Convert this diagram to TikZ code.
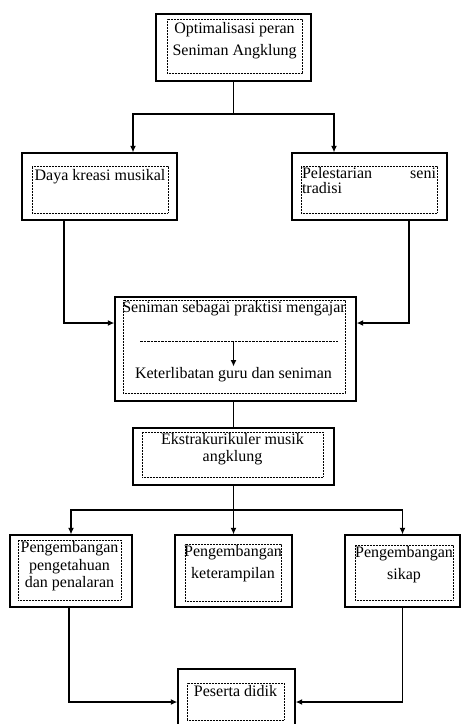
\documentclass[tikz,border=0pt]{standalone}
\usepackage{fontspec}
\setmainfont{Liberation Serif}
\usetikzlibrary{positioning, arrows.meta}

\begin{document}
\begin{tikzpicture}[x=1pt, y=-1pt]
	\tikzstyle{outerbox}=[rectangle, draw=black, line width=1.4pt, inner sep=0pt]
	\tikzstyle{innerbox}=[rectangle, draw=black, line width=0.9pt, dash pattern=on 0.8pt off 0.7pt, inner sep=0pt]
	\tikzstyle{boxtext}=[inner sep=1pt, align=center, font=\fontsize{16}{18}\selectfont]
	\tikzstyle{arr}=[-{Latex[length=6.5pt, width=6pt]}, line width=1.2pt]
	\tikzstyle{conn}=[line width=1.2pt]

	\useasboundingbox (0,0) rectangle (462,724);

	\node[outerbox, minimum width=155pt, minimum height=67pt] (optim) at (233.5,47.5) {};
	\node[innerbox, minimum width=135pt, minimum height=54pt] (optimin) at (234.5,46) {};
	\node[boxtext, below=3pt of optimin.north, font=\fontsize{16}{22}\selectfont] (optimtxt) {Optimalisasi peran\\Seniman Angklung};

	\node[outerbox, minimum width=155pt, minimum height=67pt] (daya) at (99.5,186.5) {};
	\node[innerbox, minimum width=136pt, minimum height=47pt] (dayain) at (100,189.5) {};
	\node[boxtext, below=3pt of dayain.north] (dayatxt) {Daya kreasi musikal};

	\node[outerbox, minimum width=155pt, minimum height=67pt] (lestari) at (369.5,186.5) {};
	\node[innerbox, minimum width=136pt, minimum height=47pt] (lestariin) at (369,189.5) {};
	\node[boxtext, below=1pt of lestariin.north, text width=134pt, align=left, font=\fontsize{16}{15}\selectfont] (lestaritxt) {Pelestarian\hfill seni\\tradisi};

	\node[outerbox, minimum width=241pt, minimum height=104pt] (praktisi) at (235.5,349) {};
	\node[innerbox, minimum width=222pt, minimum height=93pt] (praktisiin) at (234,346.5) {};
	\node[boxtext, below=1pt of praktisiin.north] (praktisitxt) {Seniman sebagai praktisi mengajar};
	\coordinate (dashL) at (140,341);
	\coordinate (dashR) at (338,341);
	\coordinate (dashM) at (233.5,341);
	\draw[dash pattern=on 2.5pt off 1pt, line width=1pt] (dashL) -- (dashR);
	\node[boxtext] (libat) at (233.5,375) {Keterlibatan guru dan seniman};
	\draw[arr] (dashM) -- (libat.north);

	\node[outerbox, minimum width=201pt, minimum height=57pt] (ekstra) at (233.5,456.5) {};
	\node[innerbox, minimum width=181pt, minimum height=45pt] (ekstrain) at (232.5,454.5) {};
	\node[boxtext, below=1pt of ekstrain.north, font=\fontsize{16}{17}\selectfont] (ekstratxt) {Ekstrakurikuler musik\\angklung};

	\node[outerbox, minimum width=122pt, minimum height=72pt] (peng1) at (71,571) {};
	\node[innerbox, minimum width=103pt, minimum height=60pt] (peng1in) at (69.5,570) {};
	\node[boxtext, below=1pt of peng1in.north, font=\fontsize{16}{17.5}\selectfont] (peng1txt) {Pengembangan\\pengetahuan\\dan penalaran};

	\node[outerbox, minimum width=117pt, minimum height=72pt] (peng2) at (233.5,571) {};
	\node[innerbox, minimum width=96pt, minimum height=57pt] (peng2in) at (233,572.5) {};
	\node[boxtext, below=1pt of peng2in.north, font=\fontsize{16}{22}\selectfont] (peng2txt) {Pengembangan\\keterampilan};

	\node[outerbox, minimum width=115pt, minimum height=72pt] (peng3) at (402.5,571) {};
	\node[innerbox, minimum width=98pt, minimum height=55pt] (peng3in) at (404,572.5) {};
	\node[boxtext, below=1pt of peng3in.north, font=\fontsize{16}{22}\selectfont] (peng3txt) {Pengembangan\\sikap};

	\node[outerbox, minimum width=117pt, minimum height=66pt] (peserta) at (236.5,702) {};
	\node[innerbox, minimum width=97pt, minimum height=37pt] (pesertain) at (235.5,701.5) {};
	\node[boxtext, below=2pt of pesertain.north] (pesertatxt) {Peserta didik};

	\coordinate (split1) at (233.5,114);
	\coordinate (split2) at (233.5,510);

	\draw[conn] (optim.south) -- (split1);
	\draw[arr] (split1) -| ([xshift=33.5pt]daya.north);
	\draw[arr] (split1) -| ([xshift=-35.5pt]lestari.north);
	\draw[arr] ([xshift=-35.5pt]daya.south) |- ([yshift=26pt]praktisi.west);
	\draw[arr] ([xshift=39.5pt]lestari.south) |- ([yshift=26pt]praktisi.east);
	\draw[conn] (praktisi.south -| ekstra.north) -- (ekstra.north);
	\draw[conn] (ekstra.south) -- (split2);
	\foreach \b in {peng1,peng2,peng3}{
		\draw[arr] (split2) -| (\b.north);
	}
	\draw[arr] ([xshift=-2pt]peng1.south) |- (peserta.west);
	\draw[arr] (peng3.south) |- (peserta.east);
\end{tikzpicture}
\end{document}
